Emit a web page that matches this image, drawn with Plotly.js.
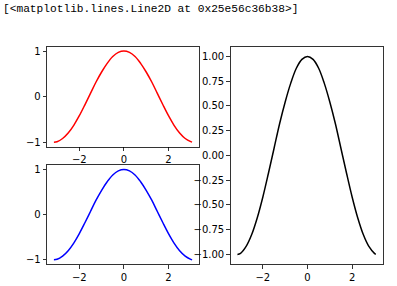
<!DOCTYPE html>
<html>
<head>
<meta charset="utf-8">
<script src="https://cdn.plot.ly/plotly-3.0.1.min.js"></script>
<style>html,body{margin:0;padding:0;background:#fff;}#chart{width:397px;height:286px;}</style>
</head>
<body>
<div id="chart"></div>
<script>
// Values (cosine curve over -pi..pi)
var xValues = [-3.14, -3.0, -2.75, -2.5, -2.25, -2.0, -1.75, -1.5, -1.25, -1.0, -0.75, -0.5, -0.25, 0,
               0.25, 0.5, 0.75, 1.0, 1.25, 1.5, 1.75, 2.0, 2.25, 2.5, 2.75, 3.0, 3.06];
var yValues = [-1.00, -0.99, -0.92, -0.80, -0.63, -0.42, -0.18, 0.07, 0.32, 0.54, 0.73, 0.88, 0.97, 1.00,
               0.97, 0.88, 0.73, 0.54, 0.32, 0.07, -0.18, -0.42, -0.63, -0.80, -0.92, -0.99, -1.00];
var xTicks = [-2, 0, 2];
var leftYTicks = [-1, 0, 1];
var rightYTicks = [-1.00, -0.75, -0.50, -0.25, 0.00, 0.25, 0.50, 0.75, 1.00];
var outputText = "[<matplotlib.lines.Line2D at 0x25e56c36b38>]";

var tickFont = {family: "DejaVu Sans", size: 10, color: "#000"};
function xAx(domain, anchor) {
  return {domain: domain, anchor: anchor, range: [-3.45, 3.37], tickmode: "array", tickvals: xTicks,
    showline: true, mirror: true, linecolor: "#000", linewidth: 0.8, ticks: "outside", ticklen: 3.5,
    tickwidth: 0.8, tickcolor: "#000", showgrid: false, zeroline: false, tickfont: tickFont, fixedrange: true};
}
function yAx(domain, anchor, vals, fmt) {
  return {domain: domain, anchor: anchor, range: [-1.1, 1.1], tickmode: "array", tickvals: vals, tickformat: fmt,
    showline: true, mirror: true, linecolor: "#000", linewidth: 0.8, ticks: "outside", ticklen: 3.5,
    tickwidth: 0.8, tickcolor: "#000", showgrid: false, zeroline: false, tickfont: tickFont, fixedrange: true};
}

var traces = [
  {x: xValues, y: yValues, xaxis: "x", yaxis: "y", mode: "lines", line: {color: "#ff0000", width: 1.5, shape: "spline"}},
  {x: xValues, y: yValues, xaxis: "x2", yaxis: "y2", mode: "lines", line: {color: "#0000ff", width: 1.5, shape: "spline"}},
  {x: xValues, y: yValues, xaxis: "x3", yaxis: "y3", mode: "lines", line: {color: "#000000", width: 1.5, shape: "spline"}}
];

var leftX = [0.1184, 0.5013];
var rightX = [0.5806, 0.9640];
var layout = {
  width: 397, height: 286,
  margin: {l: 0, r: 0, t: 0, b: 0},
  paper_bgcolor: "#fff", plot_bgcolor: "#fff",
  showlegend: false,
  xaxis: xAx(leftX, "y"),
  yaxis: yAx([0.4871, 0.8374], "x", leftYTicks, "d"),
  xaxis2: xAx(leftX, "y2"),
  yaxis2: yAx([0.0759, 0.4231], "x2", leftYTicks, "d"),
  xaxis3: xAx(rightX, "y3"),
  yaxis3: yAx([0.0759, 0.8374], "x3", rightYTicks, ".2f"),
  annotations: [{
    text: outputText, xref: "paper", yref: "paper", x: 0, y: 1, xanchor: "left", yanchor: "top",
    xshift: 1, yshift: -1, showarrow: false, font: {family: "Liberation Mono", size: 11.2, color: "#000"}
  }]
};
Plotly.newPlot("chart", traces, layout, {staticPlot: true});
</script>
</body>
</html>
